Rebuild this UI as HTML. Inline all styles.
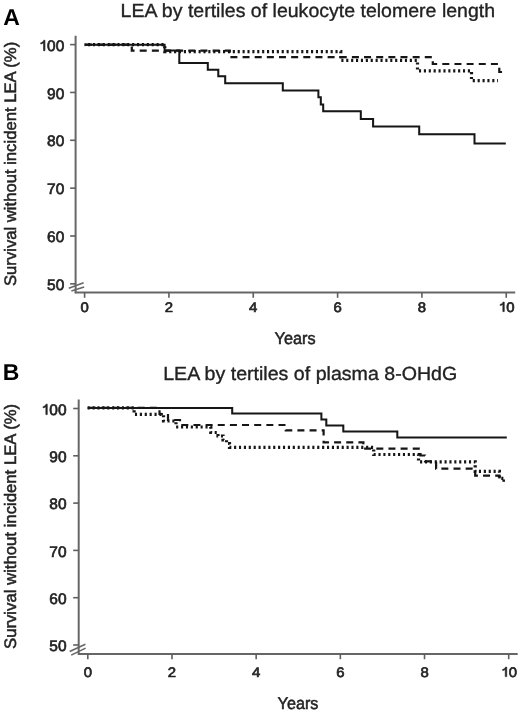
<!DOCTYPE html>
<html><head><meta charset="utf-8"><title>LEA Kaplan-Meier curves</title>
<style>html,body{margin:0;padding:0;background:#fff;width:520px;height:712px;overflow:hidden}svg{display:block}</style>
</head><body>
<svg width="520" height="712" viewBox="0 0 520 712">
<defs><filter id="soft" x="0" y="0" width="520" height="712" filterUnits="userSpaceOnUse"><feGaussianBlur stdDeviation="0.4"/></filter></defs>
<rect width="520" height="712" fill="#fff"/><g filter="url(#soft)">
<style>
text{font-family:"Liberation Sans",sans-serif;text-rendering:geometricPrecision;fill:#222222;stroke:#222222;stroke-width:0.8px}
.tk{font-size:15.5px;stroke-width:0.65px}
.one{fill:#222222;stroke:#222222;stroke-width:0.65px;stroke-linejoin:round}
.xl{font-size:17px;stroke-width:0.5px}
.yl{font-size:16.6px;stroke-width:0.5px}
.ti{font-size:19px;stroke-width:0.35px}
.pl{font-size:23px;font-weight:bold;fill:#000;stroke:none}
.s{fill:none;stroke:#121212;stroke-width:2;stroke-linejoin:miter}
.d{fill:none;stroke:#121212;stroke-width:2.2;stroke-dasharray:7 5.15}
.o{fill:none;stroke:#121212;stroke-width:3.2;stroke-dasharray:2.1 2.79}
</style>
<text x="3.3" y="25" class="pl">A</text>
<text x="120.6" y="17" class="ti" textLength="374.5" lengthAdjust="spacingAndGlyphs">LEA by tertiles of leukocyte telomere length</text>
<text x="2.8" y="379.6" class="pl">B</text>
<text x="163.2" y="380.3" class="ti" textLength="294" lengthAdjust="spacingAndGlyphs">LEA by tertiles of plasma 8-OHdG</text>
<line x1="75.6" y1="35.8" x2="75.6" y2="293.35" stroke="#666666" stroke-width="2"/>
<line x1="74.75" y1="292.5" x2="515.2" y2="292.5" stroke="#666666" stroke-width="2"/>
<line x1="68.8" y1="288.2" x2="83.6" y2="282.7" stroke="#666666" stroke-width="1.6"/>
<line x1="71.4" y1="291.1" x2="84.1" y2="286.9" stroke="#666666" stroke-width="1.6"/>
<line x1="70.1" y1="44.6" x2="75.6" y2="44.6" stroke="#5e5e5e" stroke-width="1.6"/>
<g transform="translate(38.44 50.7) scale(1.02 1)"><polygon points="6.38,0 5.02,0 5.02,-7.95 4.33,-7.44 3.34,-7 2.28,-6.74 2.28,-7.88 3.27,-8.24 4.1,-8.76 4.79,-9.48 5.24,-10.45 6.38,-10.45" class="one"/><text x="8.45" y="0" class="tk" style="font-size:15.2px">0</text><text x="16.9" y="0" class="tk" style="font-size:15.2px">0</text></g>
<line x1="70.1" y1="92.45" x2="75.6" y2="92.45" stroke="#5e5e5e" stroke-width="1.6"/>
<g transform="translate(47.06 98.55) scale(1.02 1)"><text x="0" y="0" class="tk" style="font-size:15.2px">9</text><text x="8.45" y="0" class="tk" style="font-size:15.2px">0</text></g>
<line x1="70.1" y1="140.3" x2="75.6" y2="140.3" stroke="#5e5e5e" stroke-width="1.6"/>
<g transform="translate(47.06 146.4) scale(1.02 1)"><text x="0" y="0" class="tk" style="font-size:15.2px">8</text><text x="8.45" y="0" class="tk" style="font-size:15.2px">0</text></g>
<line x1="70.1" y1="188.15" x2="75.6" y2="188.15" stroke="#5e5e5e" stroke-width="1.6"/>
<g transform="translate(47.06 194.25) scale(1.02 1)"><text x="0" y="0" class="tk" style="font-size:15.2px">7</text><text x="8.45" y="0" class="tk" style="font-size:15.2px">0</text></g>
<line x1="70.1" y1="236" x2="75.6" y2="236" stroke="#5e5e5e" stroke-width="1.6"/>
<g transform="translate(47.06 242.1) scale(1.02 1)"><text x="0" y="0" class="tk" style="font-size:15.2px">6</text><text x="8.45" y="0" class="tk" style="font-size:15.2px">0</text></g>
<line x1="70.1" y1="283.85" x2="75.6" y2="283.85" stroke="#5e5e5e" stroke-width="1.6"/>
<g transform="translate(47.06 289.95) scale(1.02 1)"><text x="0" y="0" class="tk" style="font-size:15.2px">5</text><text x="8.45" y="0" class="tk" style="font-size:15.2px">0</text></g>
<line x1="84.6" y1="292.5" x2="84.6" y2="297.8" stroke="#5e5e5e" stroke-width="1.6"/>
<g transform="translate(80.46 311.6) scale(1.08 1)"><text x="0" y="0" class="tk" style="font-size:13.8px">0</text></g>
<line x1="168.93" y1="292.5" x2="168.93" y2="297.8" stroke="#5e5e5e" stroke-width="1.6"/>
<g transform="translate(164.79 311.6) scale(1.08 1)"><text x="0" y="0" class="tk" style="font-size:13.8px">2</text></g>
<line x1="253.26" y1="292.5" x2="253.26" y2="297.8" stroke="#5e5e5e" stroke-width="1.6"/>
<g transform="translate(249.12 311.6) scale(1.08 1)"><text x="0" y="0" class="tk" style="font-size:13.8px">4</text></g>
<line x1="337.59" y1="292.5" x2="337.59" y2="297.8" stroke="#5e5e5e" stroke-width="1.6"/>
<g transform="translate(333.45 311.6) scale(1.08 1)"><text x="0" y="0" class="tk" style="font-size:13.8px">6</text></g>
<line x1="421.92" y1="292.5" x2="421.92" y2="297.8" stroke="#5e5e5e" stroke-width="1.6"/>
<g transform="translate(417.78 311.6) scale(1.08 1)"><text x="0" y="0" class="tk" style="font-size:13.8px">8</text></g>
<line x1="506.25" y1="292.5" x2="506.25" y2="297.8" stroke="#5e5e5e" stroke-width="1.6"/>
<g transform="translate(497.96 311.6) scale(1.08 1)"><polygon points="5.8,0 4.55,0 4.55,-7.22 3.93,-6.76 3.04,-6.36 2.07,-6.12 2.07,-7.15 2.97,-7.49 3.73,-7.95 4.35,-8.61 4.76,-9.49 5.8,-9.49" class="one"/><text x="7.67" y="0" class="tk" style="font-size:13.8px">0</text></g>
<text x="274.6" y="344.3" class="xl" textLength="41" lengthAdjust="spacingAndGlyphs">Years</text>
<text transform="translate(15.6 286) rotate(-90)" x="0" y="0" class="yl" textLength="244.2" lengthAdjust="spacingAndGlyphs">Survival without incident LEA (%)</text>
<line x1="78.7" y1="399.5" x2="78.7" y2="654.75" stroke="#666666" stroke-width="2"/>
<line x1="77.85" y1="653.9" x2="517.7" y2="653.9" stroke="#666666" stroke-width="2"/>
<line x1="69.7" y1="651.5" x2="85.4" y2="644.3" stroke="#666666" stroke-width="1.6"/>
<line x1="71.2" y1="655.1" x2="85.6" y2="648.1" stroke="#666666" stroke-width="1.6"/>
<line x1="73.2" y1="408.5" x2="78.7" y2="408.5" stroke="#5e5e5e" stroke-width="1.6"/>
<g transform="translate(40.74 414.6) scale(1.02 1)"><polygon points="6.38,0 5.02,0 5.02,-7.95 4.33,-7.44 3.34,-7 2.28,-6.74 2.28,-7.88 3.27,-8.24 4.1,-8.76 4.79,-9.48 5.24,-10.45 6.38,-10.45" class="one"/><text x="8.45" y="0" class="tk" style="font-size:15.2px">0</text><text x="16.9" y="0" class="tk" style="font-size:15.2px">0</text></g>
<line x1="73.2" y1="455.8" x2="78.7" y2="455.8" stroke="#5e5e5e" stroke-width="1.6"/>
<g transform="translate(49.36 461.9) scale(1.02 1)"><text x="0" y="0" class="tk" style="font-size:15.2px">9</text><text x="8.45" y="0" class="tk" style="font-size:15.2px">0</text></g>
<line x1="73.2" y1="503.1" x2="78.7" y2="503.1" stroke="#5e5e5e" stroke-width="1.6"/>
<g transform="translate(49.36 509.2) scale(1.02 1)"><text x="0" y="0" class="tk" style="font-size:15.2px">8</text><text x="8.45" y="0" class="tk" style="font-size:15.2px">0</text></g>
<line x1="73.2" y1="550.4" x2="78.7" y2="550.4" stroke="#5e5e5e" stroke-width="1.6"/>
<g transform="translate(49.36 556.5) scale(1.02 1)"><text x="0" y="0" class="tk" style="font-size:15.2px">7</text><text x="8.45" y="0" class="tk" style="font-size:15.2px">0</text></g>
<line x1="73.2" y1="597.7" x2="78.7" y2="597.7" stroke="#5e5e5e" stroke-width="1.6"/>
<g transform="translate(49.36 603.8) scale(1.02 1)"><text x="0" y="0" class="tk" style="font-size:15.2px">6</text><text x="8.45" y="0" class="tk" style="font-size:15.2px">0</text></g>
<line x1="73.2" y1="645" x2="78.7" y2="645" stroke="#5e5e5e" stroke-width="1.6"/>
<g transform="translate(49.36 651.1) scale(1.02 1)"><text x="0" y="0" class="tk" style="font-size:15.2px">5</text><text x="8.45" y="0" class="tk" style="font-size:15.2px">0</text></g>
<line x1="87.8" y1="653.9" x2="87.8" y2="659.2" stroke="#5e5e5e" stroke-width="1.6"/>
<g transform="translate(83.66 676.6) scale(1.08 1)"><text x="0" y="0" class="tk" style="font-size:13.8px">0</text></g>
<line x1="171.98" y1="653.9" x2="171.98" y2="659.2" stroke="#5e5e5e" stroke-width="1.6"/>
<g transform="translate(167.84 676.6) scale(1.08 1)"><text x="0" y="0" class="tk" style="font-size:13.8px">2</text></g>
<line x1="256.16" y1="653.9" x2="256.16" y2="659.2" stroke="#5e5e5e" stroke-width="1.6"/>
<g transform="translate(252.02 676.6) scale(1.08 1)"><text x="0" y="0" class="tk" style="font-size:13.8px">4</text></g>
<line x1="340.34" y1="653.9" x2="340.34" y2="659.2" stroke="#5e5e5e" stroke-width="1.6"/>
<g transform="translate(336.2 676.6) scale(1.08 1)"><text x="0" y="0" class="tk" style="font-size:13.8px">6</text></g>
<line x1="424.52" y1="653.9" x2="424.52" y2="659.2" stroke="#5e5e5e" stroke-width="1.6"/>
<g transform="translate(420.38 676.6) scale(1.08 1)"><text x="0" y="0" class="tk" style="font-size:13.8px">8</text></g>
<line x1="508.7" y1="653.9" x2="508.7" y2="659.2" stroke="#5e5e5e" stroke-width="1.6"/>
<g transform="translate(500.41 676.6) scale(1.08 1)"><polygon points="5.8,0 4.55,0 4.55,-7.22 3.93,-6.76 3.04,-6.36 2.07,-6.12 2.07,-7.15 2.97,-7.49 3.73,-7.95 4.35,-8.61 4.76,-9.49 5.8,-9.49" class="one"/><text x="7.67" y="0" class="tk" style="font-size:13.8px">0</text></g>
<text x="277.6" y="709.2" class="xl" textLength="40.8" lengthAdjust="spacingAndGlyphs">Years</text>
<text transform="translate(15.6 649) rotate(-90)" x="0" y="0" class="yl" textLength="245.2" lengthAdjust="spacingAndGlyphs">Survival without incident LEA (%)</text>
<path d="M84.6,44.7 164.8,44.7 164.8,51.6 340.8,51.6 340.8,60.4 417.5,60.4 417.5,70.8 471.5,70.8 471.5,80.6 498,80.6" class="o" stroke-dashoffset="1.39"/>
<path d="M84.6,44.7 131.8,44.7 131.8,50.7 229.8,50.7 229.8,57.2 432.8,57.2 432.8,64 499.3,64 499.3,72 503.5,72" class="d" stroke-dashoffset="11.8"/>
<path d="M84.6,44.7 164.6,44.7 164.6,50.6 179.3,50.6 179.3,62.9 207.8,62.9 207.8,69.8 218.3,69.8 218.3,76.3 225.2,76.3 225.2,83.3 282.8,83.3 282.8,90.4 318.4,90.4 318.4,97.3 320.8,97.3 320.8,104.4 323.2,104.4 323.2,111.3 360.8,111.3 360.8,118.9 373.1,118.9 373.1,126.5 419.2,126.5 419.2,134.2 474.5,134.2 474.5,143.4 505.8,143.4" class="s"/>
<path d="M87.6,407.9 134.1,407.9 134.1,414.4 163.5,414.4 163.5,421 176,421 176,427 210.8,427 210.8,432.5 218,432.5 218,436 223,436 223,440 226.5,440 226.5,443.5 229.5,443.5 229.5,447.3 373.7,447.3 373.7,454.5 418.5,454.5 418.5,461.8 475.2,461.8 475.2,471.4 499.4,471.4 499.4,478.4 505,478.4" class="o" stroke-dashoffset="4.83"/>
<path d="M87.6,407.9 159.5,407.9 159.5,414 168,414 168,420 180,420 180,425 285.8,425 285.8,430.4 323.6,430.4 323.6,442.3 363.4,442.3 363.4,448.7 420.5,448.7 420.5,455.5 425,455.5 425,461.3 436.1,461.3 436.1,468.7 475.2,468.7 475.2,475.6 499.4,475.6 499.4,480.6 505,480.6" class="d" stroke-dashoffset="10.7"/>
<path d="M87.6,407.9 232.2,407.9 232.2,413.5 321.4,413.5 321.4,419.5 326.3,419.5 326.3,425.5 343.3,425.5 343.3,431.4 397.3,431.4 397.3,437.4 506.8,437.4" class="s"/>
</g></svg>
</body></html>
